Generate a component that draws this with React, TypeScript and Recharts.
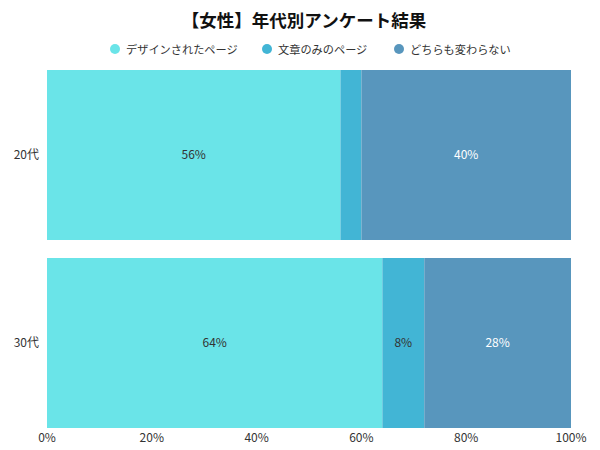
import React from 'react';
import { BarChart, Bar, XAxis, YAxis, LabelList } from 'recharts';

const title = '【女性】年代別アンケート結果';
const categories = ['20代', '30代'];
const designed = [56, 64];
const textOnly = [4, 8];
const noChange = [40, 28];
const xTicks = [0, 20, 40, 60, 80, 100];
const seriesKeys = ['designed', 'textOnly', 'noChange'];
const seriesNames = ['デザインされたページ', '文章のみのページ', 'どちらも変わらない'];
const seriesColors = ['#6ae4e8', '#42b5d5', '#5896bd'];
const labelColors = ['#333333', '#333333', '#ffffff'];
const legendLeft = [110, 262, 394];

const data = categories.map((c, i) => ({
  name: c,
  designed: designed[i],
  textOnly: textOnly[i],
  noChange: noChange[i],
}));

const FONT = '"Noto Sans CJK JP", "Noto Sans", sans-serif';

const fmt = (v: any) => (Number(v) >= 5 ? `${v}%` : '');

export default function App() {
  return (
    <div style={{ position: 'absolute', left: 0, top: 0, width: 600, height: 450, background: '#fff', fontFamily: FONT }}>
      <div
        style={{
          position: 'absolute',
          top: 8,
          left: 4,
          width: 600,
          textAlign: 'center',
          fontSize: 17.5,
          fontWeight: 700,
          color: '#111',
          lineHeight: '24px',
        }}
      >
        {title}
      </div>
      {seriesNames.map((n, i) => (
        <div
          key={n}
          style={{
            position: 'absolute',
            top: 39,
            left: legendLeft[i],
            display: 'flex',
            alignItems: 'center',
            fontSize: 11.2,
            color: '#333',
            lineHeight: '20px',
            whiteSpace: 'nowrap',
          }}
        >
          <span
            style={{
              display: 'inline-block',
              width: 10,
              height: 10,
              borderRadius: 5,
              background: seriesColors[i],
              marginRight: 6,
            }}
          />
          <span>{n}</span>
        </div>
      ))}
      <div style={{ position: 'absolute', left: 0, top: 0 }}>
        <BarChart
          width={600}
          height={450}
          data={data}
          layout="vertical"
          margin={{ top: 61, right: 29, bottom: 0, left: 0 }}
          barCategoryGap={9}
        >
          <XAxis
            type="number"
            domain={[0, 100]}
            ticks={xTicks}
            tickFormatter={(v) => `${v}%`}
            axisLine={false}
            tickLine={false}
            tickSize={0}
            tickMargin={0}
            height={13}
            interval={0}
            tick={{ fill: '#333', fontSize: 12, fontFamily: FONT, dy: -4 }}
          />
          <YAxis
            type="category"
            dataKey="name"
            width={47}
            axisLine={false}
            tickLine={false}
            tickSize={0}
            tickMargin={8}
            tick={{ fill: '#333', fontSize: 12, fontFamily: FONT }}
          />
          {seriesKeys.map((k, i) => (
            <Bar key={k} dataKey={k} stackId="a" fill={seriesColors[i]} isAnimationActive={false}>
              <LabelList
                dataKey={k}
                position="center"
                formatter={fmt}
                fill={labelColors[i]}
                style={{ fontSize: 12, fontFamily: FONT }}
              />
            </Bar>
          ))}
        </BarChart>
      </div>
    </div>
  );
}
